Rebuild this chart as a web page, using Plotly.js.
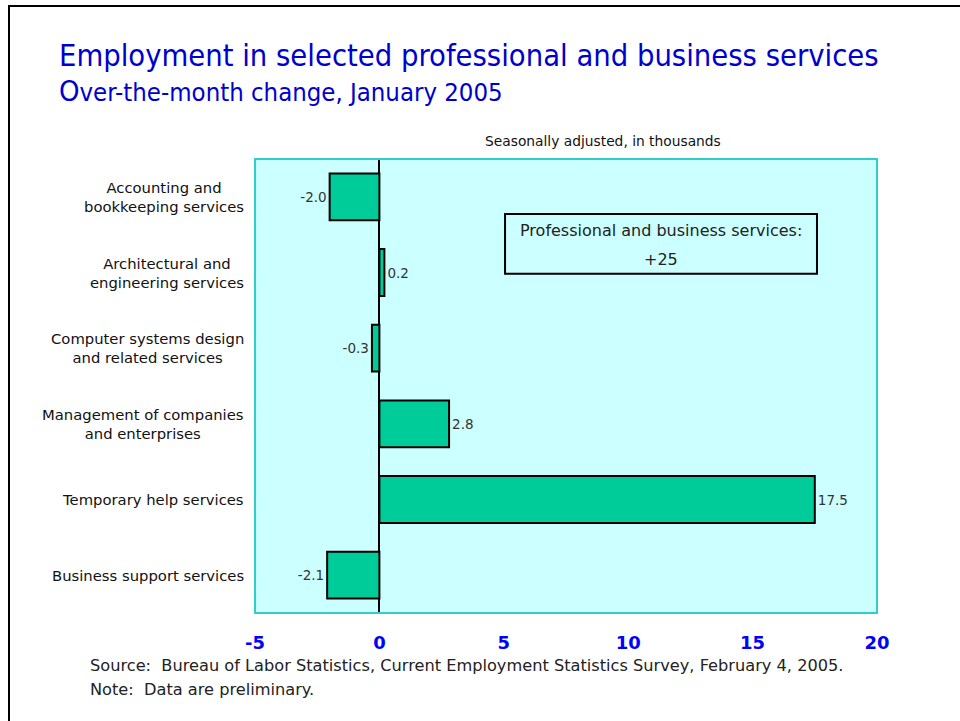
<!DOCTYPE html>
<html>
<head>
<meta charset="utf-8">
<script src="https://cdn.plot.ly/plotly-3.0.1.min.js"></script>
<style>
html,body{margin:0;padding:0;background:#fff;}
#wrap{position:relative;width:960px;height:721px;overflow:hidden;}
#chart{width:960px;height:721px;}
#frame{position:absolute;left:8px;top:5px;width:980px;height:740px;border:2px solid #000;box-sizing:border-box;pointer-events:none;}
</style>
</head>
<body>
<div id="wrap"><div id="chart"></div><div id="frame"></div></div>
<script>
var categories = [
  "Accounting and<br>bookkeeping services",
  "Architectural and<br>engineering services",
  "Computer systems design<br>and related services",
  "Management of companies<br>and enterprises",
  "Temporary help services",
  "Business support services"
];
var values = [-2.0, 0.2, -0.3, 2.8, 17.5, -2.1];
var valueLabels = ["-2.0", "0.2", "-0.3", "2.8", "17.5", "-2.1"];
var xTickVals = [-5, 0, 5, 10, 15, 20];
var xTickText = ["-5", "0", "5", "10", "15", "20"];
var totalLine1 = "Professional and business services:";
var totalLine2 = "+25";

var FONT = 'DejaVu Sans, Verdana, sans-serif';
var COND = 'DejaVu Sans Condensed, DejaVu Sans, sans-serif';

var trace = {
  type: 'bar',
  orientation: 'h',
  y: categories,
  x: values,
  text: valueLabels,
  textposition: 'outside',
  textfont: {family: FONT, size: 13.5, color: '#333'},
  cliponaxis: false,
  marker: {color: '#00CC99', line: {color: '#000', width: 2}},
  width: 0.62,
  hoverinfo: 'none'
};

var annotations = categories.map(function(c){
  return {
    xref: 'paper', yref: 'y', x: -0.0145, y: c, xanchor: 'right', yanchor: 'middle',
    text: c, showarrow: false, align: 'center',
    font: {family: FONT, size: 14.8, color: '#111'}
  };
});
annotations.push({
  xref: 'paper', yref: 'paper', x: 0.559, y: 1.0396, xanchor: 'center', yanchor: 'middle',
  text: 'Seasonally adjusted, in thousands', showarrow: false,
  font: {family: FONT, size: 13.8, color: '#111'}
});
annotations.push({
  xref: 'paper', yref: 'paper', x: 0.6527, y: 0.8436, xanchor: 'center', yanchor: 'middle',
  text: totalLine1, showarrow: false,
  font: {family: FONT, size: 16, color: '#222'}
});
annotations.push({
  xref: 'paper', yref: 'paper', x: 0.6527, y: 0.7797, xanchor: 'center', yanchor: 'middle',
  text: totalLine2, showarrow: false,
  font: {family: FONT, size: 16, color: '#222'}
});
annotations.push({
  xref: 'paper', yref: 'paper', x: -0.2685, y: -0.1167, xanchor: 'left', yanchor: 'middle',
  text: 'Source:  Bureau of Labor Statistics, Current Employment Statistics Survey, February 4, 2005.',
  showarrow: false, align: 'left',
  font: {family: FONT, size: 16.2, color: '#222'}
});
annotations.push({
  xref: 'paper', yref: 'paper', x: -0.2685, y: -0.1696, xanchor: 'left', yanchor: 'middle',
  text: 'Note:  Data are preliminary.',
  showarrow: false, align: 'left',
  font: {family: FONT, size: 16.2, color: '#222'}
});
annotations.push({
  xref: 'paper', yref: 'paper', x: -0.318, y: 1.186, xanchor: 'left', yanchor: 'bottom',
  text: 'Employment in selected professional and business services', showarrow: false,
  font: {family: COND, size: 30.6, color: '#0000CC'}
});
annotations.push({
  xref: 'paper', yref: 'paper', x: -0.318, y: 1.108, xanchor: 'left', yanchor: 'bottom',
  text: '<span style="font-size:29px">O</span>ver-the-month change, January 2005', showarrow: false,
  font: {family: COND, size: 25.5, color: '#0000CC'}
});

var layout = {
  width: 960, height: 721,
  margin: {l: 255, r: 83, t: 159, b: 108},
  paper_bgcolor: '#fff',
  plot_bgcolor: '#CCFFFF',
  showlegend: false,
  xaxis: {
    range: [-5, 20], tickvals: xTickVals, ticktext: xTickText, showgrid: false, zeroline: true,
    zerolinecolor: '#000', zerolinewidth: 2, ticks: '', fixedrange: true,
    tickfont: {family: FONT, size: 18, color: '#0000FF', weight: 'bold'},
    ticklabelstandoff: 17,
    showline: false
  },
  yaxis: {
    autorange: 'reversed', showticklabels: false, showgrid: false, ticks: '', fixedrange: true
  },
  shapes: [
    {type: 'rect', xref: 'paper', yref: 'paper', x0: 0, x1: 1, y0: 0, y1: 1,
     line: {color: '#33CCCC', width: 2}, fillcolor: 'rgba(0,0,0,0)', layer: 'above'},
    {type: 'rect', xref: 'paper', yref: 'paper', x0: 0.402, x1: 0.9035, y0: 0.747, y1: 0.879,
     line: {color: '#000', width: 2}, fillcolor: 'rgba(0,0,0,0)'}
  ],
  annotations: annotations
};

Plotly.newPlot('chart', [trace], layout, {displayModeBar: false, staticPlot: true});
</script>
</body>
</html>
